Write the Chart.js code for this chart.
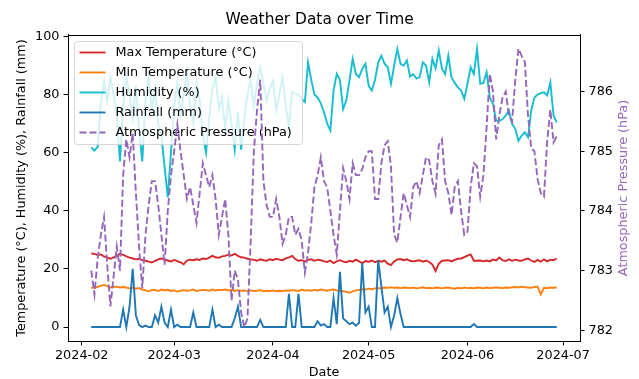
<!DOCTYPE html>
<html>
<head>
<meta charset="utf-8">
<script src="https://cdn.jsdelivr.net/npm/chart.js@4.4.1/dist/chart.umd.min.js"></script>
<style>
  html, body { margin: 0; padding: 0; background: #fff; }
  #wrap { width: 639px; height: 379px; }
</style>
</head>
<body>
<div id="wrap"><canvas id="weatherChart" width="639" height="379"></canvas></div>
<script>
// daily series, first day 2024-02-04
const startDate = '2024-02-04';

const maxTemp = [
  25.3, 25.2, 24.8, 25.0, 24.3, 23.9, 23.5, 24.0, 24.6, 25.2,
  24.8, 24.3, 23.9, 23.6, 23.3, 23.5, 23.0, 22.8, 22.5, 22.2,
  22.8, 23.3, 23.6, 23.3, 22.9, 22.6, 23.1, 22.7, 22.3, 21.6,
  22.9, 23.2, 23.0, 23.3, 23.1, 23.6, 23.4, 23.9, 24.5, 24.0,
  23.8, 24.3, 24.5, 24.9, 24.6, 25.2, 24.5, 24.0, 23.9, 23.5,
  23.3, 23.1, 22.8, 23.3, 23.0, 22.8, 23.3, 23.0, 23.5, 23.2,
  23.0, 23.6, 24.0, 24.5, 23.4, 22.8, 23.0, 22.6, 23.1, 23.3,
  22.8, 23.2, 23.0, 22.6, 22.4, 22.9, 22.0, 22.6, 23.0, 22.5,
  22.3, 22.8, 22.5, 23.2, 22.6, 22.0, 22.7, 22.5, 22.9, 22.3,
  22.8, 22.5, 22.9, 21.8, 21.3, 22.6, 23.3, 23.4, 23.0, 23.3,
  22.8, 22.6, 22.8, 23.0, 22.5, 22.9, 22.4, 21.5, 19.3, 21.8,
  22.8, 22.9, 23.0, 22.6, 23.1, 23.5, 23.6, 24.1, 24.6, 25.0,
  22.8, 22.8, 22.9, 22.6, 22.9, 22.6, 23.2, 22.9, 23.9, 23.0,
  22.7, 23.3, 22.8, 23.2, 22.9, 22.8, 23.3, 23.6, 22.9, 22.4,
  23.1, 22.5, 23.3, 22.6, 23.2, 23.0, 23.6
];

const minTemp = [
  13.6, 13.4, 13.8, 14.2, 14.5, 14.1, 13.6, 13.8, 13.9, 13.6,
  13.8, 13.6, 13.3, 13.5, 13.2, 13.4, 12.9, 12.6, 12.3, 12.7,
  12.8, 12.4, 12.9, 12.6, 12.8, 12.4, 12.6, 12.2, 12.5, 12.7,
  12.5, 12.6, 12.9, 12.4, 12.6, 12.8, 12.7, 12.5, 12.9, 12.6,
  12.8, 12.7, 12.9, 12.6, 12.8, 12.4, 12.7, 12.5, 12.6, 12.3,
  12.6, 12.4, 12.5, 12.7, 12.3, 12.5, 12.4, 12.6, 12.3, 12.5,
  12.4, 12.6, 12.5, 12.7, 12.6, 12.4, 12.8, 12.6, 12.7, 12.5,
  12.8, 12.6, 12.9, 12.7, 12.5, 12.8, 12.9, 12.6, 12.5, 12.3,
  12.1, 11.8, 12.3, 12.6, 12.8, 13.0, 12.9, 13.2, 13.0, 13.3,
  13.4, 13.3, 13.6, 13.5, 13.7, 13.5, 13.6, 13.4, 13.6, 13.5,
  13.4, 13.6, 13.3, 13.5, 13.7, 13.4, 13.5, 13.3, 13.6, 13.5,
  13.3, 13.5, 13.6, 13.4, 13.2, 13.5, 13.3, 13.6, 13.4, 13.5,
  13.3, 13.6, 13.5, 13.3, 13.6, 13.4, 13.5, 13.7, 13.5, 13.4,
  13.6, 13.5, 13.7, 13.8, 13.6, 13.9, 13.7, 13.6, 13.5, 13.8,
  13.9, 11.2, 13.5, 13.4, 13.6, 13.5, 13.6
];

const humidity = [
  61.8, 60.7, 62.0, 77.0, 84.5, 78.0, 86.0, 80.0, 73.0, 57.0,
  76.0, 86.0, 80.0, 72.0, 83.0, 68.0, 57.0, 78.0, 86.0, 75.0,
  82.0, 70.0, 66.0, 55.0, 44.6, 60.0, 76.0, 84.0, 73.0, 80.0,
  88.0, 76.0, 70.0, 84.0, 78.0, 66.0, 60.0, 72.0, 82.0, 86.0,
  75.0, 79.0, 68.0, 78.0, 70.0, 61.0, 74.0, 61.0, 72.0, 80.0,
  85.0, 76.0, 84.0, 89.4, 84.0, 78.0, 82.0, 84.8, 74.5, 80.0,
  86.0, 76.0, 68.7, 81.0, 80.2, 80.0, 78.5, 77.4, 91.1, 85.0,
  80.0, 79.0, 77.0, 73.9, 70.0, 67.6, 81.4, 87.1, 85.0, 75.0,
  78.0, 85.0, 92.3, 87.1, 86.0, 88.8, 90.6, 83.0, 81.4, 85.0,
  91.0, 93.4, 90.6, 89.4, 83.7, 90.0, 95.7, 90.6, 90.0, 91.7,
  86.2, 87.0, 85.5, 86.0, 91.1, 90.0, 84.2, 92.3, 89.0, 95.2,
  89.0, 87.0, 93.4, 86.0, 84.0, 82.5, 81.4, 78.5, 83.7, 89.4,
  87.1, 95.7, 83.7, 84.0, 87.7, 79.0, 76.8, 71.0, 71.0, 71.5,
  72.8, 74.5, 69.9, 68.2, 64.1, 65.9, 67.0, 65.3, 74.5, 79.0,
  80.0, 80.5, 80.8, 79.7, 84.2, 72.8, 70.4
];

const rainfall = [
  0, 0, 0, 0, 0, 0, 0, 0, 0, 0,
  6, 0, 7, 20, 4, 0.7, 0, 0.5, 0, 0,
  4, 1.5, 7, 1.5, 0, 6, 0, 0.8, 0, 0,
  0, 0, 5, 0, 0, 0, 0, 0, 6, 0,
  0.8, 0, 0, 0, 0, 3, 7, 0, 0, 0,
  0, 0, 0, 2.5, 0, 0, 0, 0, 0, 0,
  0, 0, 11.4, 0, 0, 11.4, 0, 0, 0, 0,
  0, 2, 0.5, 1, 0, 0, 10, 1, 19, 3,
  2, 1, 1.5, 0.5, 1.5, 22, 5, 7, 0, 0,
  23, 14, 5, 7, 0, 4, 10, 4.5, 0, 0,
  0, 0, 0, 0, 0, 0, 0, 0, 0, 0,
  0, 0, 0, 0, 0, 0, 0, 0, 0, 0,
  1, 0, 0, 0, 0, 0, 0, 0, 0, 0,
  0, 0, 0, 0, 0, 0, 0, 0, 0, 0,
  0, 0, 0, 0, 0, 0, 0
];

const pressure = [
  783.0, 782.6, 783.2, 783.6, 783.9, 783.1, 782.4, 782.9, 783.4, 783.0,
  784.6, 785.2, 784.9, 785.3, 784.3, 783.4, 782.7, 783.6, 784.1, 784.5,
  784.5, 784.1, 783.6, 783.1, 784.0, 784.6, 785.0, 785.45, 785.0, 784.6,
  784.2, 784.4, 784.1, 783.8, 784.3, 784.8, 784.6, 784.4, 784.6, 784.2,
  783.6, 783.9, 784.2, 783.6, 782.5, 783.0, 782.85, 782.3, 782.05, 782.2,
  783.5, 785.0, 785.7, 786.2, 784.5, 784.1, 783.9, 783.9, 784.2, 783.9,
  783.45, 783.6, 783.9, 783.9, 783.6, 783.7, 783.5, 782.97, 783.3, 783.8,
  784.4, 784.6, 784.9, 784.5, 784.4, 784.0, 783.6, 783.27, 784.0, 784.72,
  784.5, 784.2, 784.8, 784.6, 784.6, 784.7, 784.9, 785.0, 785.0, 784.2,
  784.2, 784.8, 785.1, 785.17, 784.75, 783.6, 783.47, 783.9, 784.3, 784.1,
  783.9, 784.4, 784.5, 784.3, 784.6, 784.9, 784.85, 784.5, 784.29, 785.1,
  785.2, 784.5, 784.3, 783.93, 784.4, 784.5, 784.0, 783.6, 783.65, 784.4,
  784.8, 784.75, 784.24, 784.6, 785.4, 786.3, 786.0, 785.2, 785.6, 785.9,
  786.0, 785.6, 785.5, 786.2, 786.72, 786.6, 786.5, 785.6, 785.05, 785.0,
  784.53, 784.3, 784.24, 785.17, 785.7, 785.15, 785.25
];

const monthTicks = ['2024-02-01', '2024-03-01', '2024-04-01', '2024-05-01', '2024-06-01', '2024-07-01'];
const monthLabels = ['2024-02', '2024-03', '2024-04', '2024-05', '2024-06', '2024-07'];
const leftTicks = [0, 20, 40, 60, 80, 100];
const rightTicks = [782, 783, 784, 785, 786];

// x axis works in days counted from 2024-02-01
const DAY = 86400000;
const origin = Date.parse('2024-02-01');
const toDay = s => (Date.parse(s) - origin) / DAY;
const firstDay = toDay(startDate);
const days = maxTemp.map((v, i) => firstDay + i);
const pts = arr => arr.map((v, i) => ({ x: days[i], y: v }));

const span = days[days.length - 1] - days[0];
const FONT = 'DejaVu Sans';

// frame round the plot, legend box drawn under the pressure line (like matplotlib twin axes),
// right axis title turned the same way as the left one
const framePlugin = {
  id: 'frame',
  beforeDatasetDraw(chart, args) {
    if (args.index !== 4) return;
    const ctx = chart.ctx;
    const a = chart.chartArea;
    const x = a.left + 6.5, y = a.top + 6.5, w = 228, h = 103, r = 3;
    ctx.save();
    ctx.beginPath();
    ctx.roundRect(x, y, w, h, r);
    ctx.fillStyle = 'rgba(255,255,255,0.8)';
    ctx.fill();
    ctx.strokeStyle = 'rgba(204,204,204,0.8)';
    ctx.lineWidth = 1;
    ctx.stroke();
    ctx.font = '12.8px "' + FONT + '"';
    ctx.textBaseline = 'middle';
    chart.data.datasets.forEach((ds, i) => {
      const cy = y + 11 + i * 20;
      ctx.beginPath();
      ctx.setLineDash(ds.borderDash || []);
      ctx.strokeStyle = ds.borderColor;
      ctx.lineWidth = ds.borderWidth;
      ctx.moveTo(x + 5, cy);
      ctx.lineTo(x + 31, cy);
      ctx.stroke();
      ctx.setLineDash([]);
      ctx.fillStyle = '#000';
      ctx.fillText(ds.label, x + 41, cy);
    });
    ctx.restore();
  },
  afterDraw(chart) {
    const ctx = chart.ctx;
    const a = chart.chartArea;
    ctx.save();
    ctx.strokeStyle = '#000';
    ctx.lineWidth = 1;
    ctx.strokeRect(Math.round(a.left) + 0.5, Math.round(a.top) + 0.5,
      Math.round(a.right - a.left), Math.round(a.bottom - a.top));
    ctx.translate(chart.width - 15, (a.top + a.bottom) / 2);
    ctx.rotate(-Math.PI / 2);
    ctx.font = '12.8px "' + FONT + '"';
    ctx.fillStyle = '#9467bd';
    ctx.textAlign = 'center';
    ctx.textBaseline = 'middle';
    ctx.fillText('Atmospheric Pressure (hPa)', 0, 0);
    ctx.restore();
  }
};

const lineStyle = { pointRadius: 0, borderWidth: 1.9, tension: 0, fill: false };

new Chart(document.getElementById('weatherChart'), {
  type: 'line',
  data: {
    datasets: [
      { label: 'Max Temperature (°C)', data: pts(maxTemp), borderColor: '#d62728', yAxisID: 'y', order: 5, ...lineStyle },
      { label: 'Min Temperature (°C)', data: pts(minTemp), borderColor: '#ff7f0e', yAxisID: 'y', order: 4, ...lineStyle },
      { label: 'Humidity (%)', data: pts(humidity), borderColor: '#17becf', yAxisID: 'y', order: 3, ...lineStyle },
      { label: 'Rainfall (mm)', data: pts(rainfall), borderColor: '#1f77b4', yAxisID: 'y', order: 2, ...lineStyle },
      { label: 'Atmospheric Pressure (hPa)', data: pts(pressure), borderColor: '#9467bd', borderDash: [7, 3], yAxisID: 'y1', order: 1, ...lineStyle }
    ]
  },
  options: {
    responsive: false,
    devicePixelRatio: 1,
    animation: false,
    layout: { padding: 0 },
    plugins: {
      legend: { display: false },
      tooltip: { enabled: false },
      title: {
        display: true,
        text: 'Weather Data over Time',
        color: '#000',
        font: { family: FONT, size: 15.4, weight: 'normal' },
        padding: { top: 10.5, bottom: 6 }
      }
    },
    scales: {
      x: {
        type: 'linear',
        position: 'bottom',
        min: days[0] - span * 0.05,
        max: days[days.length - 1] + span * 0.05,
        afterBuildTicks: s => { s.ticks = monthTicks.map(d => ({ value: toDay(d) })); },
        afterFit: s => { s.height = 38; },
        ticks: {
          autoSkip: false, maxRotation: 0, color: '#000', padding: 2,
          font: { family: FONT, size: 12.8 },
          callback: (v, i) => monthLabels[i]
        },
        grid: { drawOnChartArea: false, drawTicks: true, tickLength: 4.5, tickColor: '#000' },
        border: { display: true, color: '#000' },
        title: { display: true, text: 'Date', color: '#000', font: { family: FONT, size: 12.8, lineHeight: 1 }, padding: { top: 0, bottom: 0 } }
      },
      y: {
        position: 'left',
        min: -4.8,
        max: 100.5,
        afterBuildTicks: s => { s.ticks = leftTicks.map(v => ({ value: v })); },
        afterFit: s => { s.width = 68; },
        ticks: { color: '#000', padding: 4, font: { family: FONT, size: 12.8 } },
        grid: { drawOnChartArea: false, drawTicks: true, tickLength: 4.5, tickColor: '#000' },
        border: { display: true, color: '#000' },
        title: {
          display: true, text: 'Temperature (°C), Humidity (%), Rainfall (mm)', color: '#000',
          font: { family: FONT, size: 12.8 }, padding: { top: 14, bottom: 0 }
        }
      },
      y1: {
        position: 'right',
        min: 781.82,
        max: 786.95,
        afterBuildTicks: s => { s.ticks = rightTicks.map(v => ({ value: v })); },
        afterFit: s => { s.width = 59; },
        ticks: { color: '#000', padding: 4, font: { family: FONT, size: 12.8 } },
        grid: { drawOnChartArea: false, drawTicks: true, tickLength: 4.5, tickColor: '#000' },
        border: { display: true, color: '#000' },
        title: { display: false }
      }
    }
  },
  plugins: [framePlugin]
});
</script>
</body>
</html>
